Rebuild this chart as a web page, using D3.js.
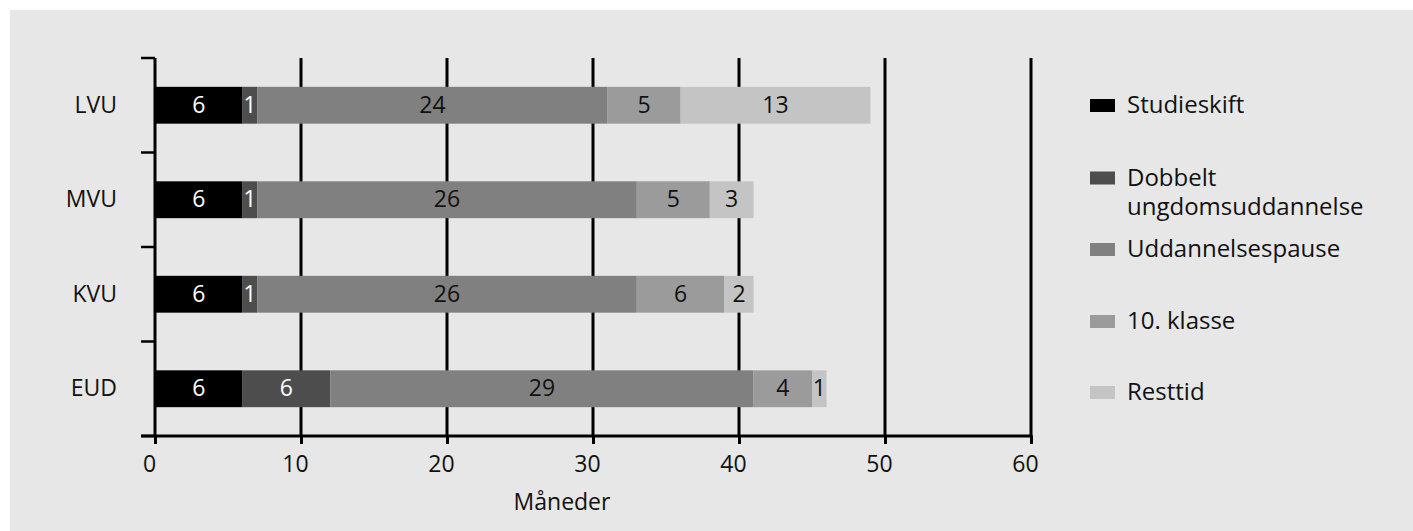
<!DOCTYPE html>
<html>
<head>
<meta charset="utf-8">
<script src="https://cdn.jsdelivr.net/npm/d3@7"></script>
<style>
  body { margin: 0; background: #fff; }
  svg { display: block; font-family: "Open Sans", "Noto Sans", sans-serif; }
</style>
</head>
<body>
<script>
var categories = ["LVU", "MVU", "KVU", "EUD"];
var seriesNames = ["Studieskift", "Dobbelt ungdomsuddannelse", "Uddannelsespause", "10. klasse", "Resttid"];
var studieskift = [6, 6, 6, 6];
var dobbelt = [1, 1, 1, 6];
var pause = [24, 26, 26, 29];
var klasse10 = [5, 5, 6, 4];
var resttid = [13, 3, 2, 1];
var xTicks = [0, 10, 20, 30, 40, 50, 60];

var colors = ["#000000", "#4d4d4d", "#808080", "#9b9b9b", "#c4c4c4"];
var labelColors = ["#ffffff", "#ffffff", "#111111", "#111111", "#111111"];

var width = 1413, height = 531;
var fs = 23;

var svg = d3.select("body")
    .append("svg")
    .attr("width", width)
    .attr("height", height);

// panel background
svg.append("rect")
    .attr("x", 10)
    .attr("y", 10)
    .attr("width", width - 10)
    .attr("height", height - 10)
    .attr("fill", "#e7e7e7");

var table = categories.map(function (c, i) {
    return {
        cat: c,
        "Studieskift": studieskift[i],
        "Dobbelt ungdomsuddannelse": dobbelt[i],
        "Uddannelsespause": pause[i],
        "10. klasse": klasse10[i],
        "Resttid": resttid[i]
    };
});

var layers = d3.stack().keys(seriesNames)(table);

var x = d3.scaleLinear()
    .domain([0, 60])
    .range([155, 1031]);

var y = d3.scaleBand()
    .domain(categories)
    .range([58, 436])
    .paddingInner(0.61)
    .paddingOuter(0.305);

// vertical grid lines
svg.selectAll("line.grid")
    .data(xTicks)
    .enter()
    .append("line")
    .attr("class", "grid")
    .attr("x1", d => x(d))
    .attr("x2", d => x(d))
    .attr("y1", 58)
    .attr("y2", 436)
    .attr("stroke", "#000")
    .attr("stroke-width", 3);

// bars
var g = svg.selectAll("g.layer")
    .data(layers)
    .enter()
    .append("g")
    .attr("class", "layer")
    .attr("fill", (d, i) => colors[i]);

g.selectAll("rect")
    .data(d => d)
    .enter()
    .append("rect")
    .attr("x", d => x(d[0]))
    .attr("y", d => y(d.data.cat))
    .attr("width", d => x(d[1]) - x(d[0]))
    .attr("height", y.bandwidth());

// bar labels
layers.forEach(function (layer, li) {
    svg.selectAll("text.lab" + li)
        .data(layer)
        .enter()
        .append("text")
        .attr("class", "lab" + li)
        .attr("x", d => (x(d[0]) + x(d[1])) / 2)
        .attr("y", d => y(d.data.cat) + y.bandwidth() / 2)
        .attr("dy", "0.33em")
        .attr("text-anchor", "middle")
        .attr("font-size", fs)
        .attr("fill", labelColors[li])
        .text(d => d[1] - d[0]);
});

// x axis
var xAxis = svg.append("g")
    .attr("transform", "translate(0,436)")
    .call(d3.axisBottom(x).tickValues(xTicks).tickSize(8).tickPadding(12).tickSizeOuter(0));
xAxis.select(".domain").remove();
xAxis.selectAll(".tick line").attr("stroke", "#000").attr("stroke-width", 3);
xAxis.selectAll(".tick text")
    .attr("x", -6)
    .attr("font-size", fs)
    .attr("font-family", "'Open Sans', 'Noto Sans', sans-serif")
    .attr("fill", "#111");
svg.append("line")
    .attr("x1", 141)
    .attr("x2", x(60) + 1.5)
    .attr("y1", 436)
    .attr("y2", 436)
    .attr("stroke", "#000")
    .attr("stroke-width", 3);

// y axis ticks at band boundaries
var yBounds = d3.range(categories.length + 1).map(i => y.range()[0] + i * y.step());
svg.selectAll("line.ytick")
    .data(yBounds)
    .enter()
    .append("line")
    .attr("class", "ytick")
    .attr("x1", 141)
    .attr("x2", x(0))
    .attr("y1", d => d)
    .attr("y2", d => d)
    .attr("stroke", "#000")
    .attr("stroke-width", 2.5);

svg.selectAll("text.cat")
    .data(categories)
    .enter()
    .append("text")
    .attr("class", "cat")
    .attr("x", 117)
    .attr("y", d => y(d) + y.bandwidth() / 2)
    .attr("dy", "0.33em")
    .attr("text-anchor", "end")
    .attr("font-size", fs)
    .attr("fill", "#111")
    .text(d => d);

svg.append("text")
    .attr("x", 562)
    .attr("y", 510)
    .attr("text-anchor", "middle")
    .attr("font-size", fs)
    .attr("fill", "#111")
    .text("Måneder");

// legend
var legendY = [106, 178.5, 250, 322, 393];
var legendLines = [["Studieskift"], ["Dobbelt", "ungdomsuddannelse"], ["Uddannelsespause"], ["10. klasse"], ["Resttid"]];
var lg = svg.selectAll("g.legend")
    .data(seriesNames)
    .enter()
    .append("g")
    .attr("class", "legend")
    .attr("transform", (d, i) => "translate(1090," + legendY[i] + ")");
lg.append("rect")
    .attr("x", 0)
    .attr("y", -7)
    .attr("width", 25)
    .attr("height", 13)
    .attr("fill", (d, i) => colors[i]);
lg.each(function (d, i) {
    var t = d3.select(this).append("text")
        .attr("x", 37)
        .attr("y", 0)
        .attr("font-size", 24)
        .attr("fill", "#111");
    legendLines[i].forEach(function (line, j) {
        t.append("tspan")
            .attr("x", 37)
            .attr("dy", j === 0 ? "0.3em" : 29)
            .text(line);
    });
});
</script>
</body>
</html>
